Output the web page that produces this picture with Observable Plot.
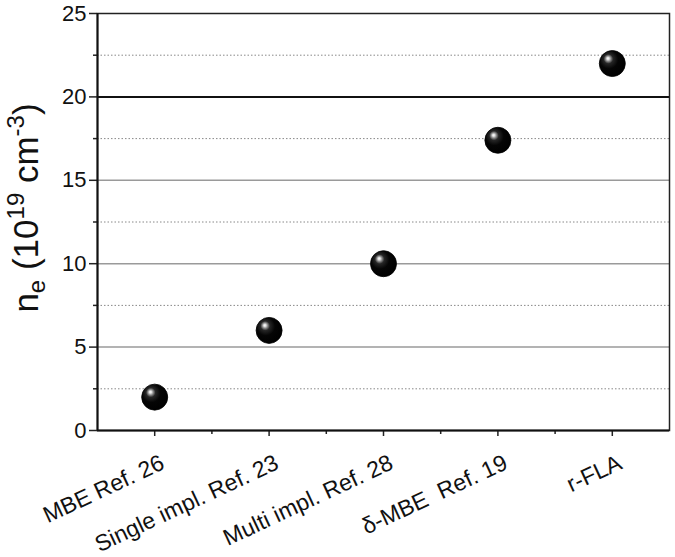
<!DOCTYPE html>
<html>
<head>
<meta charset="utf-8">
<script src="https://cdn.jsdelivr.net/npm/d3@7"></script>
<script src="https://cdn.jsdelivr.net/npm/@observablehq/plot@0.6"></script>
<style>
  html, body { margin: 0; padding: 0; background: #fff; }
  #chart svg { font-family: "Liberation Sans", Arial, sans-serif; }
</style>
</head>
<body>
<div id="chart"></div>
<script>
const categories = ["MBE Ref. 26", "Single impl. Ref. 23", "Multi impl. Ref. 28", "\u03B4-MBE\u00A0\u00A0Ref. 19", "r-FLA"];
const ne = [2.0, 6.0, 10.0, 17.4, 22.0];
const yMajorTicks = [0, 5, 10, 15, 20, 25];
const yMinorTicks = [2.5, 7.5, 12.5, 17.5, 22.5];
const gridSolid = [5, 10, 15];
const gridBold = [20];

const data = categories.map((c, i) => ({category: c, pos: i + 1, ne: ne[i]}));
const xMajor = categories.map((c, i) => i + 1);
const xMinor = categories.slice(1).map((c, i) => i + 1.5);

const chart = Plot.plot({
  width: 675,
  height: 557,
  marginLeft: 97,
  marginRight: 6,
  marginTop: 13,
  marginBottom: 127,
  style: {fontFamily: "Liberation Sans, Arial, sans-serif", background: "white", overflow: "visible"},
  x: {domain: [0.5, categories.length + 0.5], axis: null},
  y: {domain: [0, 25], axis: null},
  marks: [
    Plot.ruleY(yMinorTicks, {stroke: "#888", strokeWidth: 1, strokeDasharray: "1.5,2"}),
    Plot.ruleY(gridSolid, {stroke: "#9a9a9a", strokeWidth: 1.5}),
    Plot.ruleY(gridBold, {stroke: "#111", strokeWidth: 2}),
    Plot.frame({stroke: "#222", strokeWidth: 1.5}),
    Plot.axisY({ticks: yMajorTicks, tickSize: 8, tickPadding: 3, fontSize: 22, stroke: "#222", strokeWidth: 1.5, fill: "#111", label: null}),
    Plot.axisY({ticks: yMinorTicks, tickSize: 4, tickFormat: () => "", stroke: "#222", strokeWidth: 1.5, label: null}),
    Plot.axisX({ticks: xMajor, tickSize: 6, tickFormat: () => "", stroke: "#222", strokeWidth: 1.5, label: null}),
    Plot.axisX({ticks: xMinor, tickSize: 4, tickFormat: () => "", stroke: "#222", strokeWidth: 1.5, label: null}),
    Plot.ruleX([0.5], {stroke: "#111", strokeWidth: 2}),
    Plot.ruleY([0], {stroke: "#111", strokeWidth: 2}),
    Plot.text(data, {
      x: "pos",
      text: "category",
      frameAnchor: "bottom",
      textAnchor: "end",
      lineAnchor: "middle",
      rotate: -25,
      dx: 8,
      dy: 31,
      fontSize: 23,
      fill: "#111"
    }),
    Plot.dot(data, {x: "pos", y: "ne", r: 13, fill: "url(#ball)", stroke: "#000", strokeWidth: 0.8})
  ]
});

// radial gradient for the shaded balls
const svg = d3.select(chart);
const defs = svg.insert("defs", ":first-child");
const grad = defs.append("radialGradient")
  .attr("id", "ball")
  .attr("cx", "40%").attr("cy", "38%")
  .attr("fx", "33%").attr("fy", "30%")
  .attr("r", "65%");
grad.append("stop").attr("offset", "0%").attr("stop-color", "#ffffff");
grad.append("stop").attr("offset", "7%").attr("stop-color", "#e0e0e0");
grad.append("stop").attr("offset", "16%").attr("stop-color", "#8a8a8a");
grad.append("stop").attr("offset", "28%").attr("stop-color", "#262626");
grad.append("stop").attr("offset", "55%").attr("stop-color", "#050505");
grad.append("stop").attr("offset", "100%").attr("stop-color", "#000000");

// y-axis title with subscript and superscripts
const title = svg.append("text")
  .attr("transform", "translate(38,208) rotate(-90)")
  .attr("text-anchor", "middle")
  .attr("font-family", "Liberation Sans, Arial, sans-serif")
  .attr("font-size", 35)
  .attr("fill", "#111");
title.append("tspan").text("n");
title.append("tspan").attr("font-size", 24).attr("dy", 7).text("e");
title.append("tspan").attr("dy", -7).text(" (10");
title.append("tspan").attr("font-size", 24).attr("dy", -14).text("19");
title.append("tspan").attr("dy", 14).text(" cm");
title.append("tspan").attr("font-size", 24).attr("dy", -14).text("-3");
title.append("tspan").attr("dy", 14).text(")");

document.getElementById("chart").appendChild(chart);
</script>
</body>
</html>
